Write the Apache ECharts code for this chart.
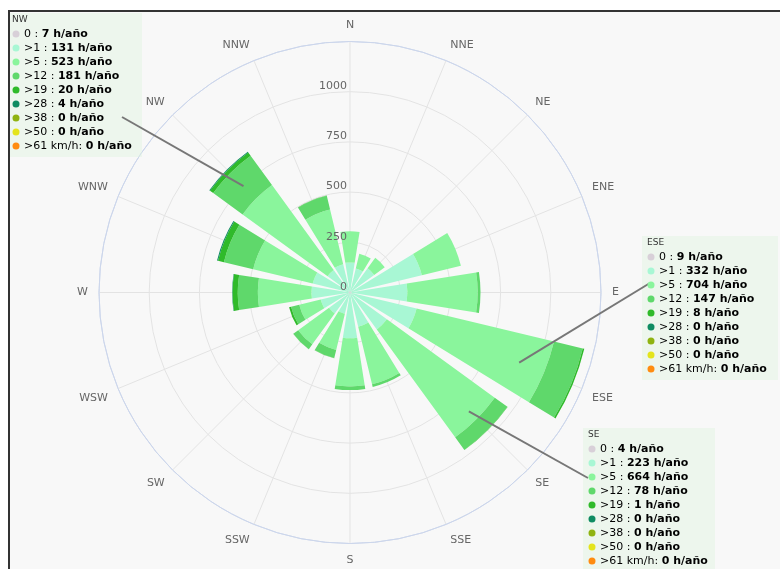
<!DOCTYPE html>
<html><head><meta charset="utf-8">
<script src="https://cdn.jsdelivr.net/npm/echarts@6/dist/echarts.min.js"></script>
<style>
html,body{margin:0;padding:0;background:#fff;}
#frame{position:absolute;left:8px;top:10px;width:772px;height:559px;background:#f8f8f8;border-left:2px solid #333;border-top:2px solid #333;box-sizing:border-box;}
#chart{position:absolute;left:0;top:0;width:780px;height:569px;}
</style></head><body>
<div id="frame"></div><div id="chart"></div>
<script>
// ---- data ----
const directions = ['N','NNE','NE','ENE','E','ESE','SE','SSE','S','SSW','SW','WSW','W','WNW','NW','NNW'];
const speedNames = ['0','>1','>5','>12','>19','>28','>38','>50','>61 km/h'];
const speedLabels = ['0 : ','>1 : ','>5 : ','>12 : ','>19 : ','>28 : ','>38 : ','>50 : ','>61 km/h: '];
const speedColors = ['#d8d0d8','#a8f7d4','#8af59c','#5fd86b','#2fba2a','#0f8c62','#8fb310','#e4e41c','#ff8c10'];
const s0  = [5, 3, 4, 8, 6, 9, 4, 5, 6, 4, 4, 5, 6, 6, 7, 5];
const s1  = [145, 120, 145, 360, 280, 332, 223, 170, 222, 105, 125, 145, 186, 185, 131, 140];
const s5  = [155, 75, 65, 200, 350, 704, 664, 295, 240, 185, 190, 110, 267, 305, 523, 280];
const s12 = [0, 0, 0, 0, 14, 147, 78, 14, 18, 42, 30, 42, 100, 150, 181, 70];
const s19 = [0, 0, 0, 0, 0, 8, 1, 0, 0, 1, 1, 10, 26, 30, 20, 2];
const s28 = [0, 0, 0, 0, 0, 0, 0, 0, 0, 0, 0, 0, 2, 5, 4, 0];
const s38 = [0, 0, 0, 0, 0, 0, 0, 0, 0, 0, 0, 0, 0, 0, 0, 0];
const s50 = [0, 0, 0, 0, 0, 0, 0, 0, 0, 0, 0, 0, 0, 0, 0, 0];
const s61 = [0, 0, 0, 0, 0, 0, 0, 0, 0, 0, 0, 0, 0, 0, 0, 0];
const radiusTicks = [0, 250, 500, 750, 1000];
const calloutDirs = ['NW', 'ESE', 'SE'];
// ---------------

const seriesData = [s0, s1, s5, s12, s19, s28, s38, s50, s61];
const FONT = 'DejaVu Sans, sans-serif';
const chart = echarts.init(document.getElementById('chart'), null, {renderer: 'canvas'});
const center = [350, 292.5], R = 251;

const series = seriesData.map((d, i) => ({
  type: 'bar', coordinateSystem: 'polar', polarIndex: 0, stack: 'wind',
  name: speedNames[i], data: d, barCategoryGap: '20%',
  itemStyle: {color: speedColors[i]}, silent: true, animation: false
}));

chart.setOption({
  animation: false,
  backgroundColor: 'transparent',
  polar: [{center: center, radius: R}, {center: center, radius: R}],
  angleAxis: [
    {polarIndex: 0, type: 'category', data: directions, startAngle: 101.25, clockwise: true, z: 3,
     axisLine: {show: true, lineStyle: {color: '#ccd6eb', width: 1}},
     axisTick: {show: false}, splitLine: {show: false},
     axisLabel: {color: '#666', fontSize: 11, fontFamily: FONT, margin: 11}},
    {polarIndex: 1, type: 'category', data: directions, startAngle: 90, clockwise: true, z: 0,
     axisLine: {show: false}, axisTick: {show: false}, axisLabel: {show: false},
     splitLine: {show: true, lineStyle: {color: '#e3e3e3', width: 1}}}
  ],
  radiusAxis: [
    {polarIndex: 0, type: 'value', min: 0, max: 1250, interval: 250, z: 0,
     axisLine: {show: false}, axisTick: {show: false}, axisLabel: {show: false},
     splitLine: {show: true, lineStyle: {color: ['#e3e3e3','#e3e3e3','#e3e3e3','#e3e3e3','#e3e3e3','#ccd6eb'], width: 1}}},
    {polarIndex: 1, type: 'value', min: 0, max: 1250, interval: 250, z: 10,
     axisLine: {show: false}, axisTick: {show: false}, splitLine: {show: false},
     axisLabel: {color: '#666', fontSize: 11, fontFamily: FONT, margin: 3, align: 'right', verticalAlign: 'bottom',
       formatter: v => radiusTicks.indexOf(v) >= 0 ? String(v) : ''}}
  ],
  series: series
});

// callout boxes (annotations)
const boxes = [
  {dir: 'NW', x: 12, y: 20, bg: [10, 13, 132, 144], anchor: [122, 117], r: 750},
  {dir: 'ESE', x: 647, y: 243, bg: [642, 236, 136, 144], anchor: [650, 283], r: 912},
  {dir: 'SE', x: 588, y: 435, bg: [583, 428, 132, 141], anchor: [588, 478], r: 837}
];
const graphics = [];
boxes.forEach(b => {
  const idx = directions.indexOf(b.dir);
  graphics.push({type: 'rect', shape: {x: b.bg[0], y: b.bg[1], width: b.bg[2], height: b.bg[3]},
    style: {fill: 'rgba(225,245,225,0.45)'}, z: 20, silent: true});
  graphics.push({type: 'text', x: b.x, y: b.y, z: 22, silent: true,
    style: {text: b.dir, fill: '#333', font: '9px ' + FONT, verticalAlign: 'middle'}});
  speedNames.forEach((n, i) => {
    const yy = b.y + 14 * (i + 1);
    graphics.push({type: 'circle', shape: {cx: b.x + 4, cy: yy, r: 3.5}, style: {fill: speedColors[i]}, z: 22, silent: true});
    graphics.push({type: 'text', x: b.x + 12, y: yy, z: 22, silent: true,
      style: {text: '{n|' + speedLabels[i] + '}{b|' + seriesData[i][idx] + ' h/año}', verticalAlign: 'middle',
        rich: {n: {fontSize: 11, fontFamily: FONT, color: '#333'}, b: {fontSize: 11, fontFamily: FONT, fontWeight: 'bold', color: '#333'}}}});
  });
  const p = chart.convertToPixel({polarIndex: 0}, [b.r, idx]);
  graphics.push({type: 'line', shape: {x1: p[0], y1: p[1], x2: b.anchor[0], y2: b.anchor[1]},
    style: {stroke: '#777', lineWidth: 2}, z: 21, silent: true});
});
chart.setOption({graphic: graphics});
</script>
</body></html>
